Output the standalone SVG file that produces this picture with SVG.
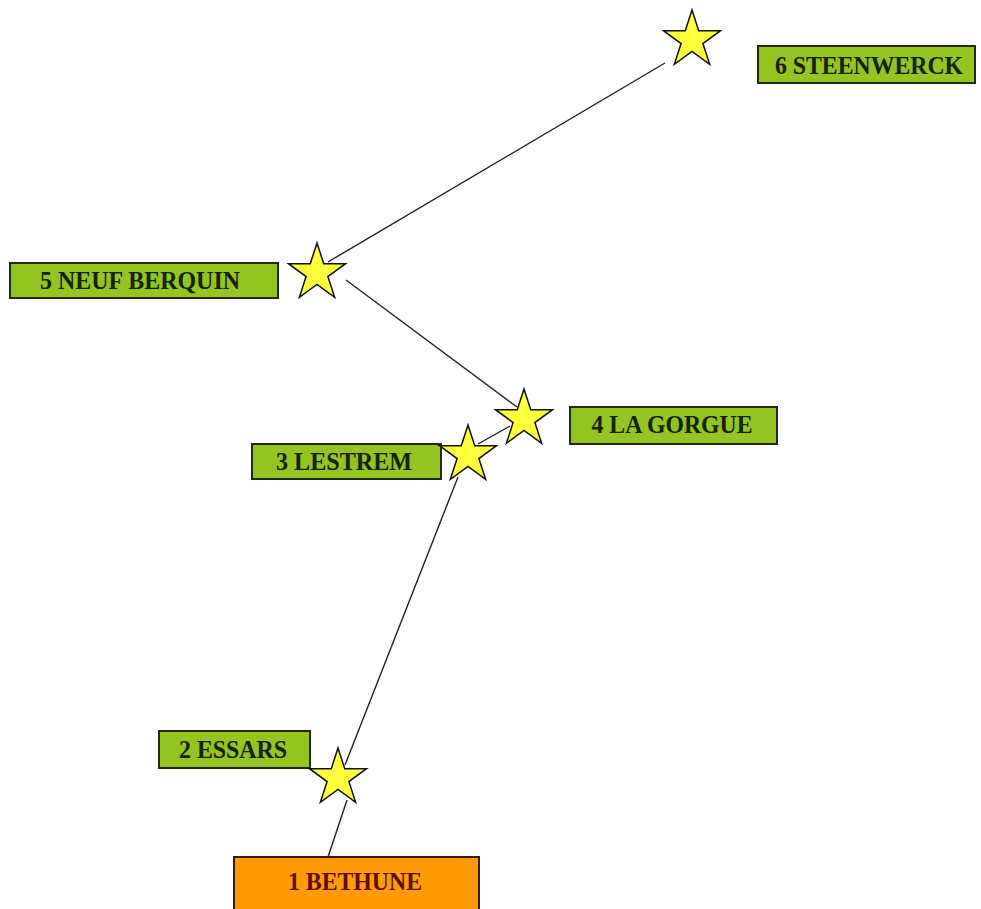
<svg xmlns="http://www.w3.org/2000/svg" xmlns:xlink="http://www.w3.org/1999/xlink" width="981" height="909" viewBox="0 0 981 909">
<style>
.lbl{fill:#93C41F;stroke:#1f2a10;stroke-width:2}
.start{fill:#FF9A05;stroke:#3a1a08;stroke-width:2}
.txt{font-family:"Liberation Serif","Times New Roman",serif;font-weight:bold;font-size:26px;fill:#132308;text-anchor:middle}
.txt1{fill:#5a1010}
.star{fill:#FFFF3C;stroke:#111;stroke-width:1.5;stroke-linejoin:miter}
.conn line{stroke:#222;stroke-width:1.4}
</style>
<defs>
<path id="star" d="M0,-30 L6.74,-9.27 L28.53,-9.27 L10.9,3.54 L17.63,24.27 L0,11.46 L-17.63,24.27 L-10.9,3.54 L-28.53,-9.27 L-6.74,-9.27 Z"/>
</defs>
<rect width="981" height="909" fill="#ffffff"/>
<g id="label-1-bethune">
<rect class="start" x="234" y="857" width="245" height="60"/>
<text class="txt txt1" x="355" y="890" textLength="134" lengthAdjust="spacingAndGlyphs">1 BETHUNE</text>
</g>
<g id="label-2-essars">
<rect class="lbl" x="159" y="731" width="151" height="37"/>
<text class="txt" x="233" y="758" textLength="108" lengthAdjust="spacingAndGlyphs">2 ESSARS</text>
</g>
<g id="label-3-lestrem">
<rect class="lbl" x="252" y="444" width="189" height="35"/>
<text class="txt" x="344" y="470" textLength="136" lengthAdjust="spacingAndGlyphs">3 LESTREM</text>
</g>
<g id="label-4-la-gorgue">
<rect class="lbl" x="570" y="407" width="207" height="37"/>
<text class="txt" x="672" y="433" textLength="161" lengthAdjust="spacingAndGlyphs">4 LA GORGUE</text>
</g>
<g id="label-5-neuf-berquin">
<rect class="lbl" x="10" y="263" width="268" height="35"/>
<text class="txt" x="140" y="289" textLength="200" lengthAdjust="spacingAndGlyphs">5 NEUF BERQUIN</text>
</g>
<g id="label-6-steenwerck">
<rect class="lbl" x="758" y="46" width="217" height="37"/>
<text class="txt" x="869" y="74" textLength="188" lengthAdjust="spacingAndGlyphs">6 STEENWERCK</text>
</g>
<g id="connectors" class="conn">
<line x1="665" y1="63" x2="328" y2="262"/>
<line x1="346" y1="280" x2="517" y2="407"/>
<line x1="510" y1="426" x2="478" y2="444"/>
<line x1="458" y1="477" x2="345" y2="765"/>
<line x1="347" y1="800" x2="328" y2="857"/>
</g>
<g id="star-2"><use xlink:href="#star" class="star" x="338" y="778"/></g>
<g id="star-3"><use xlink:href="#star" class="star" x="468" y="455"/></g>
<g id="star-4"><use xlink:href="#star" class="star" x="524" y="419"/></g>
<g id="star-5"><use xlink:href="#star" class="star" x="317" y="273"/></g>
<g id="star-6"><use xlink:href="#star" class="star" x="692" y="40"/></g>
</svg>
